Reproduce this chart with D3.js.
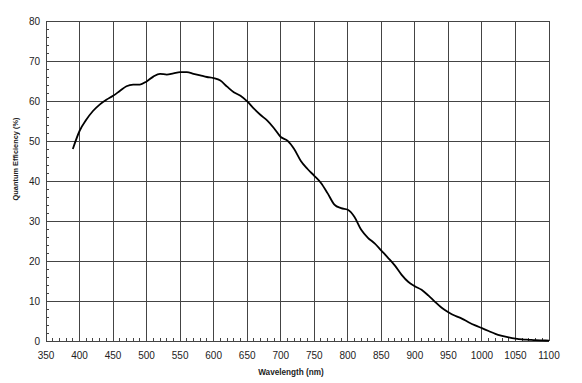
<!DOCTYPE html>
<html>
<head>
<meta charset="utf-8">
<script src="https://cdn.jsdelivr.net/npm/d3@7"></script>
<style>
  body { margin: 0; background: #fff; }
  text { font-family: "Liberation Sans", Arial, sans-serif; fill: #222; }
</style>
</head>
<body>
<div id="chart"></div>
<script>
// wavelength (nm) and quantum efficiency (%)
const wavelengths = [390, 400, 410, 420, 430, 440, 450, 460, 470, 480, 490, 500, 510, 520, 530, 540, 550, 560, 570, 580, 590,
  600, 610, 620, 630, 640, 650, 660, 670, 680, 690, 700, 710, 720, 730, 740, 750, 760, 770, 780, 790,
  800, 810, 820, 830, 840, 850, 860, 870, 880, 890, 900, 910, 920, 930, 940, 950, 960, 970, 980, 990,
  1000, 1010, 1020, 1030, 1040, 1050, 1060, 1070, 1080, 1090, 1100];
const efficiency = [48, 52.5, 55.3, 57.5, 59.1, 60.3, 61.3, 62.5, 63.7, 64.1, 64.1, 64.9, 66.1, 66.8, 66.6, 66.9, 67.2, 67.2, 66.8, 66.4, 66,
  65.7, 65.1, 63.6, 62.2, 61.3, 59.9, 58.1, 56.5, 55.1, 53.2, 51.0, 50.1, 48.0, 45.0, 43.0, 41.3, 39.5, 36.9, 34.1, 33.2,
  32.8, 31.0, 27.8, 25.8, 24.4, 22.6, 20.8, 18.9, 16.6, 14.8, 13.7, 12.8, 11.4, 9.8, 8.3, 7.2, 6.3, 5.6, 4.7, 3.9,
  3.2, 2.5, 1.8, 1.3, 0.9, 0.6, 0.4, 0.3, 0.2, 0.15, 0.1];
const xTicks = d3.range(350, 1101, 50);
const yTicks = d3.range(0, 81, 10);

const width = 582, height = 383;
const margin = { left: 46, right: 33, top: 21, bottom: 42 };

const svg = d3.select('#chart')
  .append('svg')
  .attr('width', width)
  .attr('height', height);

const x = d3.scaleLinear()
  .domain([350, 1100])
  .range([margin.left, width - margin.right]);
const y = d3.scaleLinear()
  .domain([0, 80])
  .range([height - margin.bottom, margin.top]);

const grid = svg.append('g').attr('shape-rendering', 'crispEdges');

// vertical gridlines
grid.selectAll('.vgrid')
  .data(xTicks)
  .join('line')
  .attr('x1', d => x(d)).attr('x2', d => x(d))
  .attr('y1', y(0)).attr('y2', y(80))
  .attr('stroke', '#444')
  .attr('stroke-width', 1);

// horizontal gridlines
grid.selectAll('.hgrid')
  .data(yTicks)
  .join('line')
  .attr('x1', x(350)).attr('x2', x(1100))
  .attr('y1', d => y(d)).attr('y2', d => y(d))
  .attr('stroke', '#444')
  .attr('stroke-width', 1);

// minor ticks, inside the frame
grid.selectAll('.xminor')
  .data(d3.range(350, 1100, 10).filter(d => d % 50 !== 0))
  .join('line')
  .attr('x1', d => x(d)).attr('x2', d => x(d))
  .attr('y1', y(0)).attr('y2', y(0) - 3)
  .attr('stroke', '#444');

grid.selectAll('.yminor')
  .data(d3.range(0, 80, 2).filter(d => d % 10 !== 0))
  .join('line')
  .attr('x1', x(350)).attr('x2', x(350) + 3)
  .attr('y1', d => y(d)).attr('y2', d => y(d))
  .attr('stroke', '#444');

// tick labels
svg.selectAll('.xlabel')
  .data(xTicks)
  .join('text')
  .attr('x', d => x(d))
  .attr('y', y(0) + 18)
  .attr('text-anchor', 'middle')
  .attr('font-size', 10)
  .text(d => d);

svg.selectAll('.ylabel')
  .data(yTicks)
  .join('text')
  .attr('x', x(350) - 6)
  .attr('y', d => y(d) + 3.5)
  .attr('text-anchor', 'end')
  .attr('font-size', 10)
  .text(d => d);

// axis titles
svg.append('text')
  .attr('x', 291)
  .attr('y', 375)
  .attr('text-anchor', 'middle')
  .attr('font-size', 8.2)
  .attr('font-weight', 'bold')
  .text('Wavelength (nm)');

svg.append('text')
  .attr('transform', 'translate(18,159) rotate(-90)')
  .attr('text-anchor', 'middle')
  .attr('font-size', 7.4)
  .attr('font-weight', 'bold')
  .text('Quantum Efficiency (%)');

// the curve
const line = d3.line()
  .x((d, i) => x(wavelengths[i]))
  .y(d => y(d))
  .curve(d3.curveMonotoneX);

svg.append('path')
  .datum(efficiency)
  .attr('d', line)
  .attr('fill', 'none')
  .attr('stroke', '#000')
  .attr('stroke-width', 1.8);
</script>
</body>
</html>
